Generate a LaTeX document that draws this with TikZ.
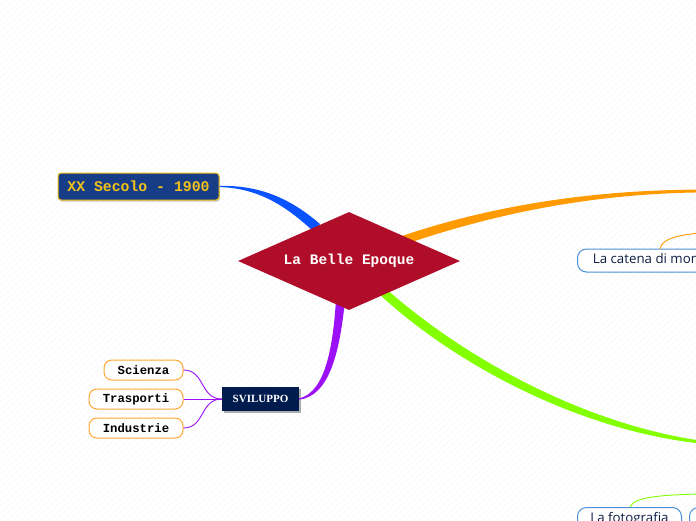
\documentclass[tikz,border=0pt]{standalone}
\usepackage{fontspec}
\setmainfont{Liberation Serif}
\newfontfamily\monob{Liberation Mono}
\newfontfamily\opensans{Open Sans}
\usetikzlibrary{shapes.geometric,shadows,calc}
\definecolor{crimson}{HTML}{B00D2A}
\definecolor{xxblue}{HTML}{173D86}
\definecolor{xxgold}{HTML}{F2C21A}
\definecolor{navy}{HTML}{001B4D}
\definecolor{cblue}{HTML}{0A52FF}
\definecolor{corange}{HTML}{FF9A00}
\definecolor{cgreen}{HTML}{84FF00}
\definecolor{cpurple}{HTML}{9B10F5}
\definecolor{pillorange}{HTML}{FFA733}
\definecolor{boxblue}{HTML}{4A8FD6}
\definecolor{textnavy}{HTML}{0E1E45}
\tikzset{
  pill/.style={draw=pillorange, line width=1pt, fill=white, rounded corners=8pt,
    minimum height=20pt, inner sep=0pt, font=\monob\bfseries\fontsize{12.3}{14}\selectfont, text=black},
  topicbox/.style={draw=boxblue, line width=1pt, fill=white, rounded corners=9pt,
    minimum height=23pt, inner sep=0pt, anchor=north west,
    font=\opensans\fontsize{13.3}{15}\selectfont, text=textnavy},
  rootshape/.style={diamond, fill=crimson, aspect=2.265, minimum width=222pt, minimum height=98pt,
    inner sep=0pt, text=white, font=\monob\bfseries\fontsize{14.5}{16}\selectfont},
  thinlink/.style={line width=0.9pt},
}
\begin{document}
\begin{tikzpicture}[x=1pt,y=-1pt]
\useasboundingbox (0,0) rectangle (696,520);
\clip (0,0) rectangle (696,520);
\fill[white] (0,0) rectangle (696,520);
% faint diagonal background lines
\foreach \k in {0,7,...,1260} {
  \draw[black!4, line width=0.4pt] (\k-560,520) -- (\k,0);
}
% named coordinates
\coordinate (diac) at (349,261);
% XX box
\node[draw=xxgold, line width=1pt, fill=xxblue, rounded corners=3pt, text=xxgold,
  font=\monob\bfseries\fontsize{14.8}{16}\selectfont, minimum width=161pt, minimum height=27pt,
  inner sep=0pt, drop shadow={shadow xshift=1pt, shadow yshift=-1.5pt, fill=black!35, opacity=0.6}]
  (xx) at (138.5,186.5) {XX Secolo - 1900};
% SVILUPPO box
\node[fill=navy, text=white, font=\bfseries\fontsize{11}{13}\selectfont, minimum width=77pt,
  minimum height=24pt, inner sep=0pt,
  drop shadow={shadow xshift=1.5pt, shadow yshift=-1.5pt, fill=black!45, opacity=0.7}]
  (svil) at (260.5,399) {SVILUPPO};
% pills
\node[pill, minimum width=79pt] (sci) at (143.5,370) {Scienza};
\node[pill, minimum width=94pt] (tra) at (136,399) {Trasporti};
\node[pill, minimum width=94pt] (ind) at (136,428) {Industrie};
% topic boxes on the right (cut off)
\node[topicbox, minimum width=170pt, anchor=west, inner xsep=0pt] (catena) at (577,260.5)
  {\hspace*{15pt}La catena di montaggio\hspace*{10pt}};
\node[topicbox, minimum width=104pt] (foto) at (577,507) {\raisebox{-9pt}{La fotografia}};
\node[topicbox, minimum width=60pt] (foto2) at (689,507) {};
\coordinate (orangeend) at (700,191);
\coordinate (greenend) at (700,442);
\coordinate (orangethin) at (700,233);
\coordinate (greenthin) at (700,494);
% main tapered connectors
\fill[cblue] ($(xx.east)+(0,-0.6)$) .. controls (262,185) and (292,200) .. (320,224)
  -- (313,231) .. controls (288,208) and (260,188) .. ($(xx.east)+(0,0.6)$) -- cycle;
\fill[corange] (396,238) .. controls (480,209) and (580,190) .. ($(orangeend)+(0,-1.4)$)
  -- ($(orangeend)+(0,1.4)$) .. controls (582,194) and (484,217) .. (400,246) -- cycle;
\fill[cgreen] (384,287) .. controls (460,355) and (580,423) .. ($(greenend)+(0,-1.5)$)
  -- ($(greenend)+(0,1.5)$) .. controls (578,430) and (454,364) .. (378,293) -- cycle;
\fill[cpurple] (336,300) .. controls (333,345) and (326,392) .. ($(svil.east)+(0,-0.6)$)
  -- ($(svil.east)+(0,0.6)$) .. controls (330,396) and (340,350) .. (345,300) -- cycle;
% root diamond on top of connector ends
\node[rootshape] (root) at (diac) {La Belle Epoque};
% thin connectors
\draw[cpurple, thinlink] (sci.east) .. controls (205,370) and (200,399) .. (svil.west);
\draw[cpurple, thinlink] (tra.east) -- (svil.west);
\draw[cpurple, thinlink] (ind.east) .. controls (205,428) and (200,399) .. (svil.west);
\draw[corange, thinlink] (660,249) .. controls (662,238) and (680,235) .. (orangethin);
\draw[cgreen, thinlink] (630,507) .. controls (634,497) and (660,495) .. (greenthin);
\end{tikzpicture}
\end{document}
